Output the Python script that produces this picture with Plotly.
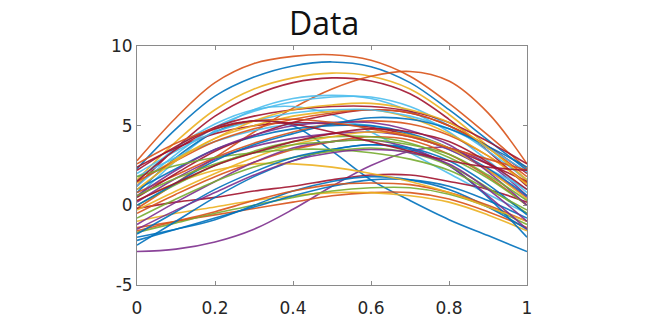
import plotly.graph_objects as go

# x positions where each curve was read
x_vals = [0.0, 0.1, 0.2, 0.3, 0.4, 0.5, 0.6, 0.7, 0.8, 0.9, 1.0]

# curve values (y at x_vals)
curves = [
    [2.8, 5.5, 7.7, 8.9, 9.35, 9.45, 9.1, 8.1, 6.4, 4.4, 2.3],
    [2.3, 4.8, 6.85, 8.05, 8.75, 9.0, 8.7, 7.7, 6.0, 4.1, 2.2],
    [1.6, 4.0, 6.0, 7.3, 8.0, 8.3, 8.1, 7.3, 5.7, 3.7, 1.5],
    [1.2, 3.6, 5.6, 6.9, 7.7, 8.0, 7.8, 7.0, 5.4, 3.4, 1.2],
    [-0.2, 1.4, 3.0, 4.6, 6.1, 7.3, 8.1, 8.4, 7.8, 5.8, 2.6],
    [0.5, 2.8, 4.7, 6.0, 6.7, 6.9, 6.7, 5.9, 4.6, 2.8, 0.8],
    [1.5, 3.6, 5.1, 6.0, 6.2, 5.7, 4.6, 3.3, 2.0, 0.7, -0.5],
    [0.8, 3.0, 4.6, 5.3, 5.0, 3.4, 1.6, 0.3, -0.9, -1.9, -2.9],
    [-2.9, -2.75, -2.3, -1.5, -0.25, 1.2, 2.5, 3.4, 3.6, 2.6, 0.6],
    [-1.4, -1.0, -0.6, -0.2, 0.2, 0.6, 0.8, 0.8, 0.4, -0.4, -1.4],
    [-1.0, -0.5, -0.1, 0.3, 0.6, 0.8, 0.8, 0.6, 0.2, -0.6, -1.6],
    [-1.7, -1.1, -0.5, 0.0, 0.5, 0.9, 1.1, 1.1, 0.7, -0.1, -1.2],
    [-2.2, -1.5, -0.8, -0.1, 0.6, 1.2, 1.6, 1.6, 1.2, 0.3, -0.8],
    [-0.2, 0.2, 0.5, 0.9, 1.2, 1.6, 1.9, 1.9, 1.5, 1.0, 0.2],
    [-2.0, -1.5, -0.9, 0.0, 0.9, 1.5, 1.8, 1.6, 1.0, -0.1, -1.5],
    [-1.6, -1.0, -0.4, 0.3, 0.9, 1.3, 1.4, 1.3, 0.8, 0.0, -1.0],
    [-2.5, -1.0, 0.5, 1.8, 2.8, 3.5, 3.8, 3.5, 2.5, 0.5, -2.0],
    [-0.5, 0.7, 1.8, 2.7, 3.5, 4.0, 4.3, 4.1, 3.2, 1.8, 0.0],
    [0.3, 1.4, 2.2, 2.6, 2.6, 2.4, 2.0, 1.5, 0.8, -0.1, -1.0],
    [-1.2, 0.2, 1.5, 2.7, 3.6, 4.0, 4.1, 3.6, 2.5, 0.6, -1.5],
    [0.0, 1.3, 2.5, 3.4, 4.0, 4.3, 4.3, 3.9, 3.0, 1.7, 0.0],
    [1.8, 3.0, 4.0, 4.7, 5.1, 5.2, 5.0, 4.4, 3.5, 2.3, 1.0],
    [2.4, 3.6, 4.5, 5.0, 5.2, 5.1, 4.9, 4.4, 3.6, 2.6, 1.5],
    [1.0, 2.3, 3.5, 4.3, 4.8, 5.0, 5.0, 4.5, 3.6, 2.3, 0.6],
    [0.8, 1.9, 3.0, 3.9, 4.6, 5.1, 5.3, 5.1, 4.4, 3.1, 1.4],
    [1.4, 2.9, 4.2, 5.0, 5.6, 5.9, 6.0, 5.5, 4.5, 3.1, 1.3],
    [0.2, 1.7, 2.9, 3.7, 4.2, 4.5, 4.6, 4.3, 3.5, 2.2, 0.5],
    [-0.8, 0.4, 1.5, 2.4, 3.0, 3.4, 3.6, 3.3, 2.5, 1.1, -0.5],
    [1.2, 3.2, 4.9, 5.9, 6.5, 6.8, 6.8, 6.2, 5.0, 3.4, 1.6],
    [0.5, 2.0, 3.4, 4.4, 5.2, 5.7, 6.0, 5.8, 5.0, 3.7, 2.0],
    [-1.8, -0.4, 1.0, 2.1, 3.0, 3.5, 3.8, 3.6, 2.8, 1.3, -0.6],
    [1.5, 2.8, 4.0, 4.8, 5.4, 5.8, 6.0, 5.8, 5.0, 3.6, 1.8],
    [-0.3, 0.9, 2.0, 3.0, 3.8, 4.3, 4.6, 4.4, 3.6, 2.2, 0.4],
    [0.6, 2.2, 3.5, 4.4, 5.0, 5.2, 5.2, 4.7, 3.8, 2.1, 0.0],
    [1.8, 2.5, 3.0, 3.3, 3.5, 3.5, 3.3, 2.9, 2.2, 1.0, -0.3],
    [2.0, 3.4, 4.6, 5.3, 5.8, 6.0, 6.0, 5.6, 4.8, 3.6, 2.1],
    [2.2, 3.7, 4.9, 5.6, 6.0, 6.2, 6.2, 5.9, 5.2, 4.0, 2.6],
    [0.0, 1.4, 2.8, 3.8, 4.5, 5.1, 5.5, 5.4, 4.8, 3.7, 2.4],
    [2.6, 3.9, 4.8, 5.3, 5.4, 5.2, 4.8, 4.3, 3.6, 2.9, 2.2],
    [1.0, 2.8, 4.2, 5.3, 6.0, 6.3, 6.4, 6.0, 5.2, 3.6, 1.6],
    [-1.5, -0.3, 0.8, 1.9, 2.8, 3.3, 3.5, 3.3, 2.6, 1.0, -1.0],
    [0.6, 1.7, 2.6, 3.3, 3.8, 4.0, 4.1, 3.8, 3.2, 1.9, 0.3],
    [0.3, 1.4, 2.5, 3.3, 4.0, 4.5, 4.8, 4.6, 4.0, 2.7, 1.0],
    [1.5, 3.5, 4.8, 5.3, 5.1, 4.6, 4.0, 3.4, 2.8, 2.4, 2.2],
]

# MATLAB default colour order
palette = {"b": "#0072BD", "o": "#D95319", "y": "#EDB120", "p": "#7E2F8E",
           "g": "#77AC30", "c": "#4DBEEE", "r": "#A2142F"}
curve_colors = ["o", "b", "y", "r", "o", "c", "c", "b", "p",
                "o", "y", "g", "b", "r", "b", "o",
                "b", "o", "y", "p", "g", "c", "r", "b", "o", "y", "p", "g",
                "c", "r", "b", "o", "y", "p", "g", "c", "r", "b", "o", "y",
                "p", "g", "r", "r"]

fig = go.Figure()
for ys, c in zip(curves, curve_colors):
    fig.add_trace(go.Scatter(x=x_vals, y=ys, mode="lines",
                             line=dict(color=palette[c], width=1.6, shape="spline", smoothing=1.0),
                             opacity=0.9, showlegend=False, hoverinfo="skip"))

axis_common = dict(showgrid=False, zeroline=False, showline=True, linecolor="#8a8a8a",
                   linewidth=1, mirror="ticks", ticks="inside", ticklen=4,
                   tickcolor="#8a8a8a",
                   tickfont=dict(family="DejaVu Sans, sans-serif", size=17, color="#262626"))

fig.update_layout(
    width=648, height=330,
    margin=dict(l=137, r=121, t=46, b=38),
    paper_bgcolor="white", plot_bgcolor="white",
    xaxis=dict(range=[0, 1], tickvals=[0, 0.2, 0.4, 0.6, 0.8, 1],
               ticktext=["0", "0.2", "0.4", "0.6", "0.8", "1"], ticklabelstandoff=8,
               **axis_common),
    yaxis=dict(range=[-5, 10], tickvals=[-5, 0, 5, 10],
               ticktext=["-5", "0", "5", "10"], **axis_common),
    annotations=[dict(text="Data", xref="paper", yref="paper", x=0.479, y=1.0,
                      yshift=24, xanchor="center", yanchor="middle", showarrow=False,
                      font=dict(family="Open Sans, sans-serif", size=32, color="#111111"))],
)

fig.write_html("out.html")
